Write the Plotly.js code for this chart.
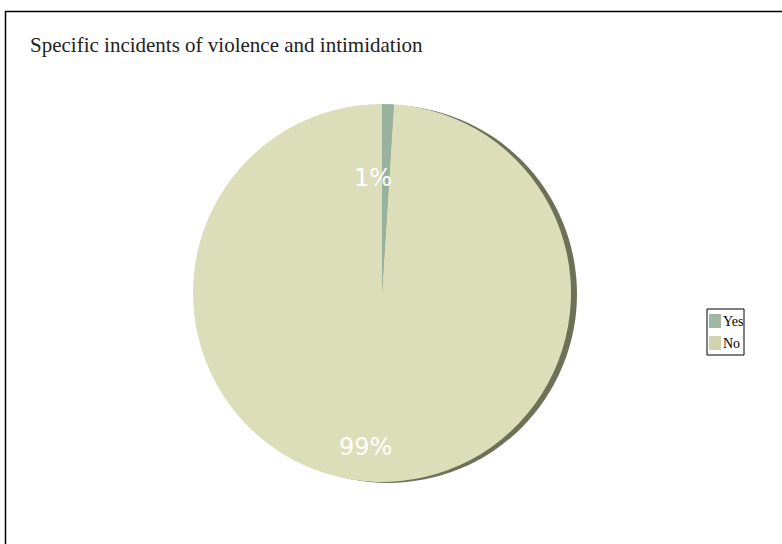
<!DOCTYPE html>
<html>
<head>
<meta charset="utf-8">
<script src="https://cdn.plot.ly/plotly-3.0.1.min.js"></script>
<style>html,body{margin:0;padding:0;background:#fff;}#chart{width:782px;height:544px;}</style>
</head>
<body>
<div id="chart"></div>
<script>
// ---- data ----
const chartTitle = "Specific incidents of violence and intimidation";
const categories = ["Yes", "No"];
const values = [1, 99];
const sliceColors = ["#98b29e", "#dcdeb9"];
const legendColors = ["#9fb8a4", "#d2d4b0"];

// ---- layout helpers (pixels -> paper) ----
const W = 782, H = 544;
const px = x => x / W;
const py = y => (H - y) / H;

const cx = 382, cy = 293, r = 189;
const total = values.reduce((a, b) => a + b, 0);
const pct = values.map(v => Math.round(100 * v / total) + "%");

const trace = {
  type: "pie",
  labels: categories,
  values: values,
  sort: false,
  direction: "clockwise",
  rotation: 0,
  marker: { colors: sliceColors, line: { width: 0 } },
  textinfo: "none",
  hoverinfo: "none",
  showlegend: false,
  domain: { x: [px(cx - r), px(cx + r)], y: [py(cy + r), py(cy - r)] }
};

// label positions (pixels) for each slice's percentage
const labelPos = [[373, 178], [365, 447]];
const annotations = pct.map((t, i) => ({
  text: t, xref: "paper", yref: "paper",
  x: px(labelPos[i][0]), y: py(labelPos[i][1]),
  xanchor: "center", yanchor: "middle", showarrow: false,
  font: { family: "DejaVu Sans", size: 24, color: "#ffffff" }
}));

// custom legend
const legX = 707, legY = 309, legW = 37, rowH = 22;
const shapes = [
  // outer frame
  { type: "rect", xref: "paper", yref: "paper", x0: px(5.5), x1: 1.05, y0: -0.05, y1: py(11.5),
    line: { color: "#000", width: 1.5 }, fillcolor: "rgba(0,0,0,0)", layer: "below" },
  // 3D rim
  { type: "circle", xref: "paper", yref: "paper",
    x0: px(cx - r + 6), x1: px(cx + r + 6), y0: py(cy + r + 1), y1: py(cy - r + 1),
    line: { width: 0 }, fillcolor: "#6e7158", layer: "below" },
  // legend box
  { type: "rect", xref: "paper", yref: "paper", x0: px(legX), x1: px(legX + legW),
    y0: py(legY + rowH * categories.length + 2), y1: py(legY),
    line: { color: "#000", width: 1 }, fillcolor: "#fff", layer: "above" }
];
categories.forEach((c, i) => {
  const yc = legY + 12 + i * rowH;
  shapes.push({ type: "rect", xref: "paper", yref: "paper",
    x0: px(legX + 2), x1: px(legX + 14), y0: py(yc + 7), y1: py(yc - 7),
    line: { width: 0 }, fillcolor: legendColors[i], layer: "above" });
  annotations.push({ text: c, xref: "paper", yref: "paper",
    x: px(legX + 14), y: py(yc), xanchor: "left", yanchor: "middle", showarrow: false,
    font: { family: "Liberation Serif", size: 14, color: "#000" } });
});

const layout = {
  width: W, height: H,
  margin: { l: 0, r: 0, t: 0, b: 0 },
  paper_bgcolor: "#fff", plot_bgcolor: "#fff",
  title: {
    text: chartTitle, xref: "paper", yref: "paper",
    x: px(30), xanchor: "left", y: py(45), yanchor: "middle",
    font: { family: "Liberation Serif", size: 21, color: "#222" }
  },
  showlegend: false,
  shapes: shapes,
  annotations: annotations
};

Plotly.newPlot("chart", [trace], layout, { displayModeBar: false, staticPlot: true });
</script>
</body>
</html>
